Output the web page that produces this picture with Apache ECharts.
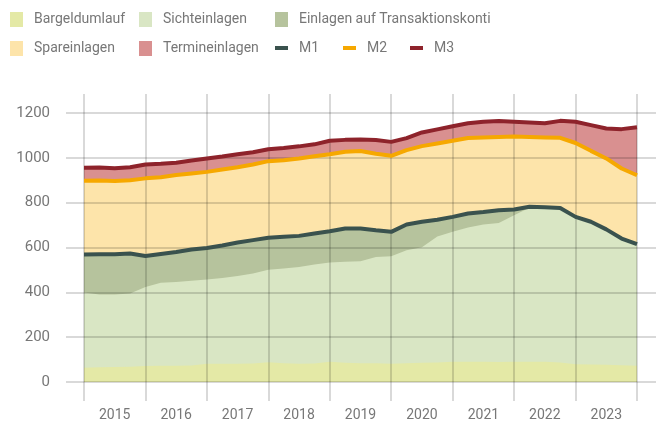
<!DOCTYPE html>
<html>
<head>
<meta charset="utf-8">
<script src="https://cdn.jsdelivr.net/npm/echarts@6/dist/echarts.min.js"></script>
<style>
  html, body { margin: 0; padding: 0; background: #fff; }
  #moneyChart { width: 662px; height: 428px; }
</style>
</head>
<body>
<div id="moneyChart"></div>
<script>
const years = ['2015', '2016', '2017', '2018', '2019', '2020', '2021', '2022', '2023']
const yTicks = [0, 200, 400, 600, 800, 1000, 1200]

// quarterly points, cumulative levels (Mrd. CHF)
const bargeld = [64, 66, 67, 68, 72, 73, 73, 74, 81, 82, 81, 83, 88, 84, 82, 83, 91, 86, 84, 84, 82, 84, 86, 87, 91, 90, 90, 89, 90, 91, 90, 87, 79, 78, 77, 75, 73]
const sicht = [400, 391, 391, 395, 425, 443, 447, 452, 458, 465, 474, 485, 502, 507, 514, 525, 534, 537, 540, 559, 562, 589, 602, 650, 671, 690, 704, 711, 745, 779, 777, 774, 734, 712, 678, 637, 612]
const m1 = [570, 571, 571, 574, 563, 572, 581, 592, 599, 610, 623, 634, 645, 649, 653, 664, 674, 686, 686, 678, 671, 704, 716, 725, 738, 753, 760, 768, 771, 783, 781, 778, 738, 716, 682, 641, 616]
const m2 = [899, 900, 898, 902, 910, 915, 925, 932, 939, 950, 960, 972, 987, 991, 999, 1009, 1018, 1029, 1032, 1020, 1011, 1036, 1054, 1066, 1078, 1090, 1093, 1095, 1097, 1095, 1093, 1091, 1068, 1033, 999, 954, 924]
const m3 = [957, 958, 955, 960, 972, 975, 980, 990, 999, 1008, 1018, 1027, 1040, 1046, 1053, 1062, 1078, 1082, 1084, 1081, 1073, 1090, 1115, 1129, 1143, 1156, 1163, 1166, 1163, 1160, 1156, 1167, 1163, 1148, 1133, 1130, 1138]

const quarters = m3.map((v, i) => (2015 + Math.floor(i / 4)) + '-Q' + (i % 4 + 1))

const gridColor = 'rgba(0,0,0,0.2)'
const textColor = '#777777'
const font = 'Roboto'

const areaSeries = (name, data, color) => ({
  name,
  type: 'line',
  data,
  xAxisIndex: 2,
  yAxisIndex: 1,
  showSymbol: false,
  symbol: 'none',
  lineStyle: { width: 0 },
  areaStyle: { color, opacity: 1 },
  color,
  z: -1,
  silent: true
})

const lineSeries = (name, data, color) => ({
  name,
  type: 'line',
  data,
  xAxisIndex: 2,
  yAxisIndex: 1,
  showSymbol: false,
  symbol: 'none',
  lineStyle: { width: 4, color },
  color,
  z: 5
})

const legendItem = (name, left, top, w, h) => ({
  data: [name],
  left,
  top,
  padding: 0,
  icon: 'rect',
  itemWidth: w,
  itemHeight: h,
  selectedMode: false,
  textStyle: { color: textColor, fontSize: 14, fontFamily: font, padding: [0, 0, 0, 6] }
})

const chart = echarts.init(document.getElementById('moneyChart'))
chart.setOption({
  animation: false,
  legend: [
    legendItem('Bargeldumlauf', 10, 12, 13, 15),
    legendItem('Sichteinlagen', 139, 12, 13, 15),
    legendItem('Einlagen auf Transaktionskonti', 275, 12, 13, 15),
    legendItem('Spareinlagen', 10, 41, 13, 15),
    legendItem('Termineinlagen', 139, 41, 13, 15),
    legendItem('M1', 275, 41, 13, 4),
    legendItem('M2', 343, 41, 13, 4),
    legendItem('M3', 410, 41, 13, 4)
  ],
  grid: [
    { left: 66, right: 6, top: 113, bottom: 46 },
    { left: 84, right: 25, top: 94, bottom: 46 }
  ],
  xAxis: [
    { gridIndex: 0, type: 'value', show: false, min: 0, max: 1 },
    {
      gridIndex: 1,
      type: 'category',
      data: years,
      boundaryGap: true,
      axisLine: { show: false },
      axisTick: { show: true, interval: 0, length: 19, lineStyle: { color: gridColor, width: 1.5 } },
      splitLine: { show: true, interval: 0, lineStyle: { color: gridColor, width: 1.5 } },
      axisLabel: { color: textColor, fontSize: 14, fontFamily: font, margin: 26 },
      z: 1
    },
    { gridIndex: 1, type: 'category', data: quarters, boundaryGap: false, show: false }
  ],
  yAxis: [
    {
      gridIndex: 0,
      type: 'value',
      min: yTicks[0],
      max: yTicks[yTicks.length - 1],
      interval: 200,
      axisLine: { show: false },
      axisTick: { show: false },
      splitLine: { lineStyle: { color: gridColor, width: 1.5 } },
      axisLabel: {
        color: textColor,
        fontSize: 15,
        fontFamily: font,
        margin: 16,
        formatter: (v) => String(v)
      },
      z: 1
    },
    { gridIndex: 1, type: 'value', min: 0, max: 1287, show: false }
  ],
  series: [
    areaSeries('Termineinlagen', m3, '#d99090'),
    areaSeries('Spareinlagen', m2, '#fde4aa'),
    areaSeries('Einlagen auf Transaktionskonti', m1, '#b6c39d'),
    areaSeries('Sichteinlagen', sicht, '#d9e6c4'),
    areaSeries('Bargeldumlauf', bargeld, '#e4e9a6'),
    lineSeries('M1', m1, '#3a524e'),
    lineSeries('M2', m2, '#f6a800'),
    lineSeries('M3', m3, '#8e232b')
  ]
})
</script>
</body>
</html>
